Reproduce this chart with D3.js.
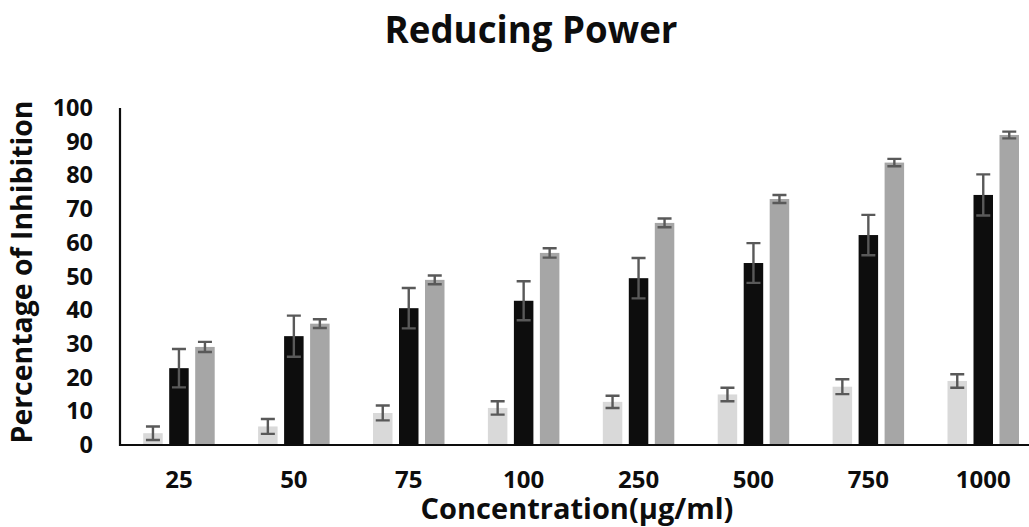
<!DOCTYPE html>
<html>
<head>
<meta charset="utf-8">
<script src="https://cdn.jsdelivr.net/npm/d3@7"></script>
<style>
  body { margin: 0; background: #fff; }
  text { font-family: "Open Sans", "Noto Sans", sans-serif; font-weight: 700; fill: #0d0d0d; }
</style>
</head>
<body>
<svg id="chart" width="1029" height="527"></svg>
<script>
// --- data
var concentrations = ['25', '50', '75', '100', '250', '500', '750', '1000'];
var seriesNames = ['light', 'black', 'gray'];
var lightValues = [3.5, 5.5, 9.5, 11, 12.8, 15, 17.3, 19];
var lightErrors = [2, 2.2, 2.2, 2, 1.8, 2, 2.2, 2];
var blackValues = [22.8, 32.3, 40.6, 42.8, 49.5, 54, 62.3, 74.2];
var blackErrors = [5.7, 6.1, 6, 5.8, 6, 5.9, 6, 6.1];
var grayValues = [29.1, 36, 49, 57, 65.9, 73, 83.8, 92];
var grayErrors = [1.5, 1.3, 1.3, 1.4, 1.3, 1.2, 1.1, 1];
var yTicks = [0, 10, 20, 30, 40, 50, 60, 70, 80, 90, 100];

var colors = { light: '#d9d9d9', black: '#0d0d0d', gray: '#a6a6a6' };

var rows = [];
concentrations.forEach(function(c, i) {
  rows.push({ cat: c, s: 'light', v: lightValues[i], e: lightErrors[i] });
  rows.push({ cat: c, s: 'black', v: blackValues[i], e: blackErrors[i] });
  rows.push({ cat: c, s: 'gray', v: grayValues[i], e: grayErrors[i] });
});

var svg = d3.select('#chart');

// --- scales
var x = d3.scaleBand().domain(concentrations).range([121.5, 1040.7]);
var inner = d3.scaleBand().domain(seriesNames).range([-39, 39]).paddingInner(0.25).paddingOuter(0.125);
var y = d3.scaleLinear().domain([0, 100]).range([445, 108]);

// --- fit a text element to a width
function fitWidth(sel, width, size) {
  sel.style('font-size', size + 'px');
  var w = sel.node().getComputedTextLength();
  sel.style('font-size', (size * width / w) + 'px');
}

// --- bars
svg.append('g').selectAll('rect').data(rows).enter()
  .append('rect')
  .attr('x', function(d) { return x(d.cat) + x.bandwidth() / 2 + inner(d.s); })
  .attr('width', inner.bandwidth())
  .attr('y', function(d) { return y(d.v); })
  .attr('height', function(d) { return y(0) - y(d.v); })
  .attr('fill', function(d) { return colors[d.s]; });

// --- error bars
svg.append('g').attr('stroke', '#595959').attr('stroke-width', 2.4).attr('fill', 'none')
  .selectAll('path').data(rows).enter()
  .append('path')
  .attr('d', function(d) {
    var cx = x(d.cat) + x.bandwidth() / 2 + inner(d.s) + inner.bandwidth() / 2;
    var t = y(d.v + d.e), b = y(d.v - d.e), h = 7;
    return 'M' + (cx - h) + ',' + t + 'H' + (cx + h) +
           'M' + cx + ',' + t + 'V' + b +
           'M' + (cx - h) + ',' + b + 'H' + (cx + h);
  });

// --- axes
var yAxis = d3.axisLeft(y).tickValues(yTicks).tickSize(0).tickPadding(27);
var gy = svg.append('g').attr('transform', 'translate(120,0)').call(yAxis);
gy.select('.domain').remove();
gy.selectAll('text').style('font-size', '23.5px').attr('fill', '#0d0d0d');

var xAxis = d3.axisBottom(x).tickSize(0).tickPadding(26);
var gx = svg.append('g').attr('transform', 'translate(0,445)').call(xAxis);
gx.select('.domain').remove();
gx.selectAll('text').style('font-size', '24px').attr('fill', '#0d0d0d');

svg.append('path')
  .attr('d', 'M120,108V445H1029')
  .attr('stroke', '#0d0d0d').attr('stroke-width', 2.2).attr('fill', 'none');

// --- titles
var title = svg.append('text').attr('x', 531).attr('y', 43).attr('text-anchor', 'middle').text('Reducing Power');
fitWidth(title, 293, 34);

var xt = svg.append('text').attr('x', 577).attr('y', 519).attr('text-anchor', 'middle').text('Concentration(μg/ml)');
fitWidth(xt, 313, 28);

var yt = svg.append('text').attr('transform', 'translate(32,272) rotate(-90)')
  .attr('text-anchor', 'middle').text('Percentage of Inhibition');
fitWidth(yt, 343, 26);
</script>
</body>
</html>
